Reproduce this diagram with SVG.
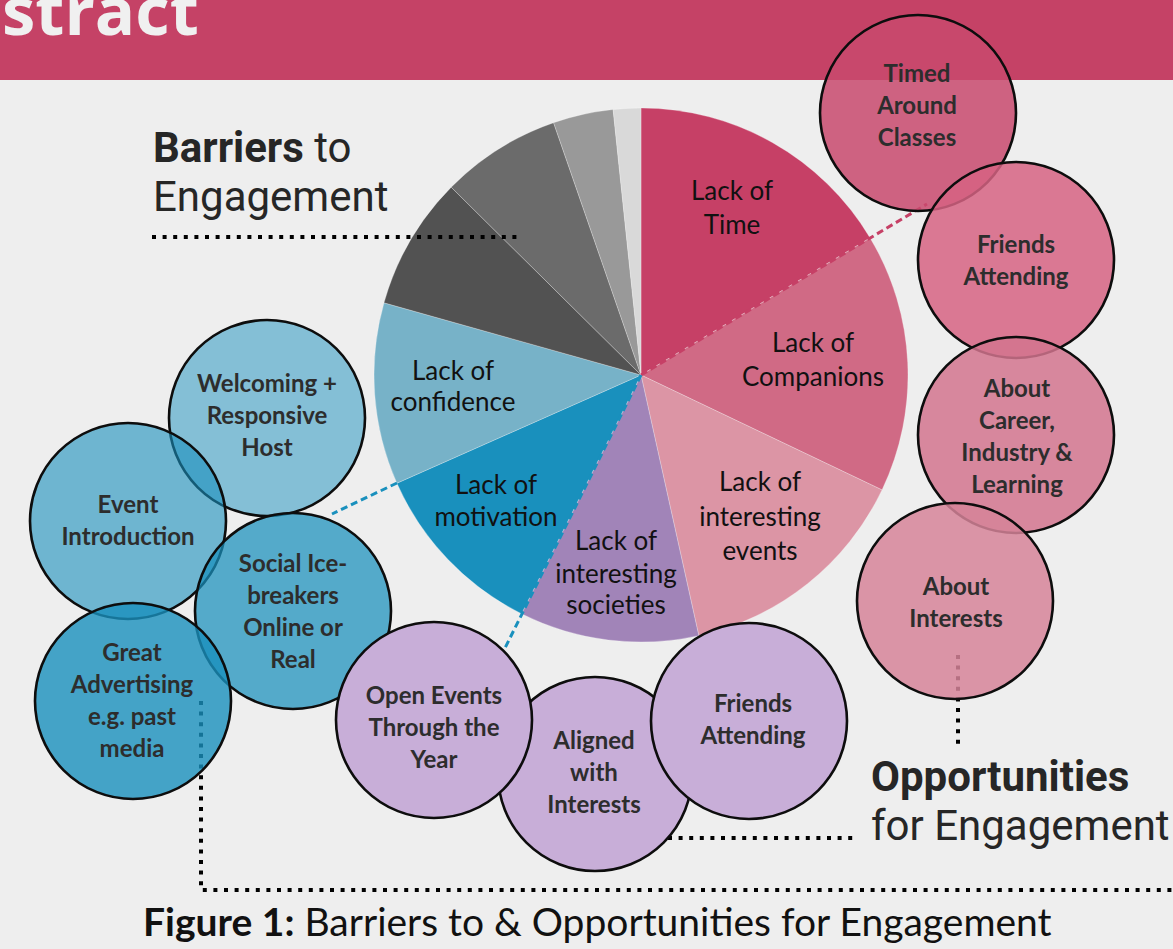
<svg xmlns="http://www.w3.org/2000/svg" width="1173" height="949" viewBox="0 0 1173 949">
  <style>
    .pie-label { font-family: Lato, "Liberation Sans", sans-serif; font-size: 26px; fill: #111; text-anchor: middle; }
    .node-label { font-family: Lato, "Liberation Sans", sans-serif; font-size: 24px; font-weight: 700; fill: #2d2d2d; text-anchor: middle; }
    .bubble { stroke: #0d0d0d; stroke-width: 2.6; }
    .heading { font-family: Roboto, "Liberation Sans", sans-serif; font-size: 42px; fill: #262626; }
    .dots { fill: none; stroke: #000; stroke-width: 4; stroke-dasharray: 4 6.6; }
    .dash { fill: none; stroke-width: 3; stroke-dasharray: 7 4; }
    .slice { stroke: #ffffff; stroke-opacity: 0.25; stroke-width: 1; }
  </style>

  <!-- page background and header band -->
  <rect x="0" y="0" width="1173" height="949" fill="#eeeeee"/>
  <rect x="0" y="0" width="1173" height="80" fill="#c54266"/>
  <text x="2" y="35" font-family="'Open Sans', 'Liberation Sans', sans-serif" font-weight="700" font-size="67" fill="#f0f0f0">stract</text>

  <!-- pie chart of barriers, centre (641,375), r=267 -->
  <g id="pie">
    <g id="slice-time"><path class="slice" d="M641,375 L641,108 A267,267 0 0 1 870.1,237.9 Z" fill="#c64066"/></g>
    <g id="slice-companions"><path class="slice" d="M641,375 L870.1,237.9 A267,267 0 0 1 882.0,489.9 Z" fill="#d06a85"/></g>
    <g id="slice-events"><path class="slice" d="M641,375 L882.0,489.9 A267,267 0 0 1 698.8,635.7 Z" fill="#dc95a5"/></g>
    <g id="slice-societies"><path class="slice" d="M641,375 L698.8,635.7 A267,267 0 0 1 521.5,613.8 Z" fill="#a184b8"/></g>
    <g id="slice-motivation"><path class="slice" d="M641,375 L521.5,613.8 A267,267 0 0 1 396.9,483.2 Z" fill="#1990bd"/></g>
    <g id="slice-confidence"><path class="slice" d="M641,375 L396.9,483.2 A267,267 0 0 1 384.0,302.8 Z" fill="#77b2c8"/></g>
    <g id="slice-grey-1"><path class="slice" d="M641,375 L384.0,302.8 A267,267 0 0 1 451.2,187.2 Z" fill="#525252"/></g>
    <g id="slice-grey-2"><path class="slice" d="M641,375 L451.2,187.2 A267,267 0 0 1 553.6,122.7 Z" fill="#6b6b6b"/></g>
    <g id="slice-grey-3"><path class="slice" d="M641,375 L553.6,122.7 A267,267 0 0 1 613.1,109.5 Z" fill="#999999"/></g>
    <g id="slice-grey-4"><path class="slice" d="M641,375 L613.1,109.5 A267,267 0 0 1 641,108 Z" fill="#d9d9d9"/></g>

    <text class="pie-label" x="732" y="200">Lack of<tspan x="732" y="234">Time</tspan></text>
    <text class="pie-label" x="813" y="352">Lack of<tspan x="813" y="386">Companions</tspan></text>
    <text class="pie-label" x="760" y="491">Lack of<tspan x="760" y="526">interesting</tspan><tspan x="760" y="560">events</tspan></text>
    <text class="pie-label" x="616" y="550">Lack of<tspan x="616" y="583">interesting</tspan><tspan x="616" y="614">societies</tspan></text>
    <text class="pie-label" x="496" y="494">Lack of<tspan x="496" y="526">motivation</tspan></text>
    <text class="pie-label" x="453" y="380">Lack of<tspan x="453" y="411">confidence</tspan></text>
  </g>

  <!-- connectors -->
  <g id="connectors">
    <line class="dash" x1="641" y1="375" x2="927" y2="204" stroke="#c64066"/>
    <line class="dash" x1="641" y1="375" x2="505" y2="648" stroke="#1990bd"/>
    <line class="dash" x1="397" y1="483" x2="332" y2="514" stroke="#1990bd"/>
    <line class="dots" x1="152" y1="237" x2="521" y2="237"/>
    <line class="dots" x1="958" y1="655" x2="958" y2="748"/>
    <line class="dots" x1="668" y1="838" x2="855" y2="838"/>
    <polyline class="dots" points="201,701 201,890 1173,890"/>
  </g>

  <!-- opportunity bubbles: blue -->
  <g id="welcoming-host">
    <circle class="bubble" cx="267" cy="418" r="98" fill="#1990bd" fill-opacity="0.5"/>
    <text class="node-label" x="267" y="392">Welcoming +<tspan x="267" y="424">Responsive</tspan><tspan x="267" y="456">Host</tspan></text>
  </g>
  <g id="event-introduction">
    <circle class="bubble" cx="128" cy="521" r="98" fill="#1990bd" fill-opacity="0.6"/>
    <text class="node-label" x="128" y="513">Event<tspan x="128" y="545">Introduction</tspan></text>
  </g>
  <g id="social-icebreakers">
    <circle class="bubble" cx="293" cy="611" r="98" fill="#1990bd" fill-opacity="0.72"/>
    <text class="node-label" x="293" y="572">Social Ice-<tspan x="293" y="604">breakers</tspan><tspan x="293" y="636">Online or</tspan><tspan x="293" y="668">Real</tspan></text>
  </g>
  <g id="great-advertising">
    <circle class="bubble" cx="133" cy="701" r="98" fill="#1990bd" fill-opacity="0.8"/>
    <text class="node-label" x="132" y="661">Great<tspan x="132" y="693">Advertising</tspan><tspan x="132" y="725">e.g. past</tspan><tspan x="132" y="757">media</tspan></text>
  </g>

  <!-- opportunity bubbles: purple -->
  <g id="aligned-interests">
    <circle class="bubble" cx="595" cy="774" r="97" fill="#c8aed8"/>
    <text class="node-label" x="594" y="749">Aligned<tspan x="594" y="781">with</tspan><tspan x="594" y="813">Interests</tspan></text>
  </g>
  <g id="open-events">
    <circle class="bubble" cx="434" cy="720" r="98" fill="#c8aed8"/>
    <text class="node-label" x="434" y="704">Open Events<tspan x="434" y="736">Through the</tspan><tspan x="434" y="768">Year</tspan></text>
  </g>
  <g id="friends-attending-purple">
    <circle class="bubble" cx="749" cy="721" r="98" fill="#c8aed8"/>
    <text class="node-label" x="753" y="712">Friends<tspan x="753" y="744">Attending</tspan></text>
  </g>

  <!-- opportunity bubbles: pink -->
  <g id="timed-around-classes">
    <circle class="bubble" cx="918" cy="113" r="98" fill="#c8496d" fill-opacity="0.85"/>
    <text class="node-label" x="917" y="82">Timed<tspan x="917" y="114">Around</tspan><tspan x="917" y="146">Classes</tspan></text>
  </g>
  <g id="friends-attending-pink">
    <circle class="bubble" cx="1016" cy="260" r="98" fill="#d66382" fill-opacity="0.85"/>
    <text class="node-label" x="1016" y="253">Friends<tspan x="1016" y="285">Attending</tspan></text>
  </g>
  <g id="career-industry">
    <circle class="bubble" cx="1016" cy="435" r="98" fill="#d2748e" fill-opacity="0.85"/>
    <text class="node-label" x="1017" y="397">About<tspan x="1017" y="429">Career,</tspan><tspan x="1017" y="461">Industry &amp;</tspan><tspan x="1017" y="493">Learning</tspan></text>
  </g>
  <g id="about-interests">
    <circle class="bubble" cx="955" cy="601" r="98" fill="#d68499" fill-opacity="0.85"/>
    <text class="node-label" x="956" y="595">About<tspan x="956" y="627">Interests</tspan></text>
  </g>

  <!-- headings -->
  <text class="heading" x="153" y="162"><tspan font-weight="700">Barriers</tspan> to</text>
  <text class="heading" x="153" y="211">Engagement</text>
  <text class="heading" x="871" y="791" font-weight="700">Opportunities</text>
  <text class="heading" x="871" y="840">for Engagement</text>

  <!-- caption -->
  <text x="143" y="936" font-family="Lato, 'Liberation Sans', sans-serif" font-size="39" fill="#111"><tspan font-weight="700">Figure 1:</tspan> Barriers to &amp; Opportunities for Engagement</text>
</svg>
